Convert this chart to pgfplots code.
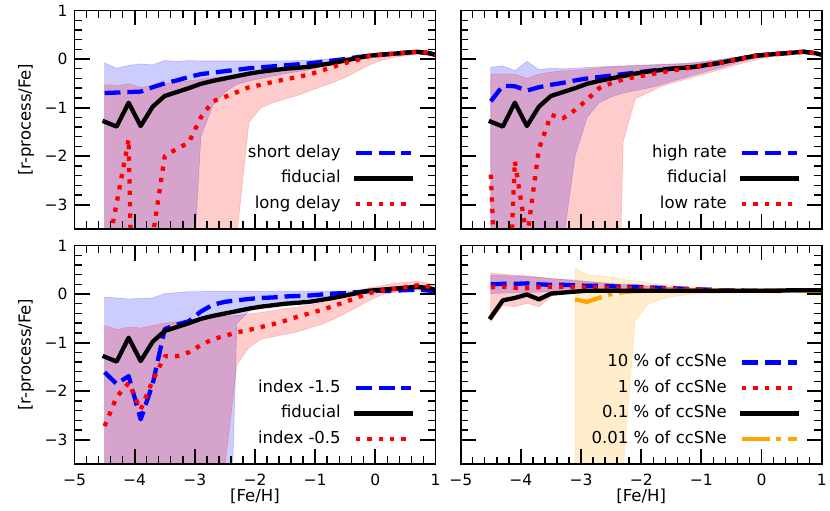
\documentclass[border=0pt]{standalone}
\usepackage{fontspec}
\setmainfont{DejaVu Sans}
\usepackage{pgfplots}
\usepackage{pgfplotstable}
\pgfplotsset{compat=1.18}
\usepgfplotslibrary{fillbetween}
\definecolor{myorange}{RGB}{255,165,0}

\pgfplotstableread{
x fid short long bu bl ru rl
-4.5 -1.29 -0.70 -4.3 -0.08 -10 -0.53 -10
-4.3 -1.39 -0.69 -2.97 -0.19 -10 -0.55 -10
-4.1 -0.90 -0.68 -1.65 -0.13 -10 -0.51 -10
-3.9 -1.38 -0.67 -14 -0.10 -10 -0.58 -10
-3.7 -0.98 -0.58 -3.65 -0.12 -10 -0.55 -10
-3.5 -0.76 -0.50 -2.0 -0.03 -10 -0.50 -10
-3.3 -0.68 -0.44 -1.85 -0.05 -10 -0.48 -10
-3.1 -0.60 -0.37 -1.72 -0.03 -6 -0.45 -10
-2.9 -0.51 -0.31 -1.2 -0.04 -1.6 -0.42 -10
-2.7 -0.45 -0.28 -0.87 -0.04 -0.95 -0.38 -10
-2.5 -0.40 -0.25 -0.78 -0.04 -0.68 -0.35 -6
-2.3 -0.35 -0.22 -0.68 -0.04 -0.52 -0.32 -3.6
-2.1 -0.30 -0.19 -0.58 -0.04 -0.45 -0.28 -1.3
-1.9 -0.26 -0.17 -0.53 -0.04 -0.40 -0.25 -1.0
-1.7 -0.23 -0.15 -0.47 -0.04 -0.35 -0.22 -0.9
-1.5 -0.20 -0.13 -0.42 -0.04 -0.30 -0.19 -0.82
-1.3 -0.18 -0.11 -0.37 -0.03 -0.26 -0.17 -0.75
-1.1 -0.16 -0.09 -0.32 -0.03 -0.22 -0.15 -0.66
-0.9 -0.12 -0.06 -0.24 -0.01 -0.16 -0.10 -0.57
-0.7 -0.08 -0.03 -0.16 0.01 -0.10 -0.05 -0.48
-0.5 -0.03 0.00 -0.08 0.03 -0.05 0.00 -0.38
-0.3 0.02 0.04 -0.02 0.06 0.00 0.05 -0.25
-0.1 0.07 0.07 0.06 0.09 0.05 0.09 -0.12
0.1 0.09 0.09 0.09 0.10 0.08 0.10 -0.03
0.3 0.11 0.11 0.11 0.12 0.10 0.12 0.03
0.5 0.13 0.13 0.13 0.14 0.12 0.14 0.07
0.7 0.15 0.15 0.15 0.16 0.14 0.16 0.09
0.9 0.12 0.12 0.13 0.14 0.11 0.14 0.08
1.1 0.05 0.05 0.06 0.08 0.04 0.08 0.03
}\tA

\pgfplotstableread{
x fid high low bu bl ru rl
-4.5 -1.29 -0.87 -2.38 -0.17 -8 -0.31 -12
-4.3 -1.39 -0.55 -7.98 -0.14 -8 -0.31 -12
-4.1 -0.90 -0.56 -2.1 -0.24 -8 -0.31 -12
-3.9 -1.38 -0.65 -3.7 -0.05 -8 -0.40 -12
-3.7 -0.98 -0.58 -1.85 -0.22 -8 -0.31 -12
-3.5 -0.76 -0.53 -1.15 -0.19 -8 -0.27 -12
-3.3 -0.68 -0.49 -1.22 -0.20 -3.8 -0.24 -12
-3.1 -0.60 -0.44 -1.05 -0.19 -2.0 -0.23 -12
-2.9 -0.51 -0.40 -0.84 -0.17 -1.2 -0.21 -12
-2.7 -0.45 -0.37 -0.60 -0.16 -0.9 -0.18 -12
-2.5 -0.40 -0.34 -0.50 -0.15 -0.78 -0.16 -12
-2.3 -0.35 -0.31 -0.42 -0.14 -0.70 -0.15 -1.7
-2.1 -0.30 -0.28 -0.37 -0.13 -0.65 -0.14 -0.82
-1.9 -0.26 -0.25 -0.33 -0.12 -0.60 -0.13 -0.70
-1.7 -0.23 -0.22 -0.28 -0.11 -0.54 -0.12 -0.58
-1.5 -0.20 -0.20 -0.24 -0.10 -0.46 -0.11 -0.50
-1.3 -0.18 -0.18 -0.20 -0.09 -0.39 -0.10 -0.43
-1.1 -0.16 -0.16 -0.16 -0.07 -0.32 -0.08 -0.36
-0.9 -0.12 -0.12 -0.12 -0.04 -0.25 -0.05 -0.29
-0.7 -0.08 -0.08 -0.08 -0.01 -0.18 -0.02 -0.22
-0.5 -0.03 -0.03 -0.03 0.03 -0.11 0.02 -0.15
-0.3 0.02 0.02 0.02 0.06 -0.04 0.05 -0.08
-0.1 0.07 0.07 0.07 0.10 0.02 0.09 -0.02
0.1 0.09 0.09 0.09 0.11 0.06 0.10 0.04
0.3 0.11 0.11 0.11 0.12 0.09 0.12 0.08
0.5 0.13 0.13 0.13 0.14 0.12 0.14 0.11
0.7 0.15 0.15 0.15 0.16 0.14 0.16 0.13
0.9 0.12 0.12 0.12 0.14 0.11 0.14 0.10
1.1 0.05 0.05 0.05 0.08 0.04 0.08 0.03
}\tB

\pgfplotstableread{
x fid ia ib bu bl ru rl
-4.5 -1.29 -1.61 -2.72 -0.06 -9 -0.65 -9
-4.3 -1.39 -1.85 -2.12 -0.08 -9 -0.73 -9
-4.1 -0.90 -1.69 -1.83 -0.10 -9 -0.68 -9
-3.9 -1.38 -2.58 -2.38 -0.09 -9 -0.70 -9
-3.7 -0.98 -1.85 -1.78 -0.08 -9 -0.65 -9
-3.5 -0.76 -0.72 -1.28 0.01 -9 -0.60 -9
-3.3 -0.68 -0.63 -1.28 0.03 -9 -0.57 -9
-3.1 -0.60 -0.56 -1.20 0.05 -9 -0.54 -9
-2.9 -0.51 -0.36 -1.05 0.05 -9 -0.51 -9
-2.7 -0.45 -0.22 -0.93 0.06 -9 -0.48 -9
-2.5 -0.40 -0.16 -0.86 0.06 -9 -0.46 -3.55
-2.3 -0.35 -0.13 -0.79 0.06 -0.6 -0.44 -1.45
-2.1 -0.30 -0.10 -0.74 0.06 -0.35 -0.41 -1.1
-1.9 -0.26 -0.08 -0.68 0.06 -0.25 -0.38 -0.93
-1.7 -0.23 -0.07 -0.62 0.06 -0.20 -0.34 -0.88
-1.5 -0.20 -0.05 -0.55 0.06 -0.16 -0.30 -0.83
-1.3 -0.18 -0.04 -0.47 0.06 -0.13 -0.27 -0.78
-1.1 -0.16 -0.03 -0.40 0.06 -0.10 -0.23 -0.70
-0.9 -0.12 -0.01 -0.33 0.06 -0.07 -0.18 -0.63
-0.7 -0.08 0.01 -0.25 0.06 -0.04 -0.10 -0.52
-0.5 -0.03 0.02 -0.16 0.06 -0.02 -0.02 -0.40
-0.3 0.02 0.04 -0.07 0.07 0.01 0.07 -0.27
-0.1 0.07 0.06 0.02 0.08 0.04 0.13 -0.13
0.1 0.09 0.07 0.07 0.08 0.05 0.17 -0.02
0.3 0.11 0.07 0.10 0.09 0.06 0.22 0.03
0.5 0.13 0.08 0.14 0.10 0.07 0.24 0.06
0.7 0.15 0.09 0.18 0.11 0.08 0.26 0.10
0.9 0.12 0.07 0.15 0.09 0.06 0.22 0.08
1.1 0.05 0.03 0.08 0.05 0.02 0.14 0.03
}\tC

\pgfplotstableread{
x pa pb pc bu bl ru rl
-4.5 0.20 0.14 -0.48 0.39 0.01 0.44 -0.57
-4.3 0.21 0.15 -0.13 0.38 0.02 0.41 -0.23
-4.1 0.21 0.13 -0.08 0.37 0.03 0.39 -0.26
-3.9 0.22 0.12 -0.01 0.36 0.03 0.37 -0.19
-3.7 0.20 0.14 -0.11 0.34 0.04 0.35 -0.26
-3.5 0.19 0.15 0.01 0.32 0.05 0.32 -0.05
-3.3 0.19 0.15 0.03 0.30 0.05 0.30 0.01
-3.1 0.18 0.14 0.05 0.29 0.06 0.27 0.05
-2.9 0.17 0.14 0.07 0.26 0.06 0.25 0.06
-2.7 0.17 0.13 0.07 0.24 0.06 0.23 0.06
-2.5 0.16 0.13 0.07 0.22 0.07 0.21 0.06
-2.3 0.15 0.13 0.07 0.20 0.07 0.19 0.06
-2.1 0.15 0.12 0.07 0.19 0.07 0.17 0.06
-1.9 0.14 0.12 0.07 0.17 0.07 0.16 0.06
-1.7 0.13 0.11 0.07 0.16 0.07 0.15 0.06
-1.5 0.12 0.11 0.07 0.14 0.07 0.14 0.06
-1.3 0.11 0.10 0.07 0.13 0.07 0.13 0.06
-1.1 0.10 0.10 0.07 0.12 0.07 0.12 0.06
-0.9 0.09 0.09 0.07 0.11 0.07 0.11 0.06
-0.7 0.08 0.08 0.07 0.10 0.07 0.10 0.06
-0.5 0.08 0.08 0.07 0.09 0.07 0.09 0.06
-0.3 0.07 0.07 0.07 0.09 0.06 0.09 0.06
-0.1 0.07 0.07 0.07 0.08 0.06 0.08 0.06
0.1 0.07 0.07 0.07 0.08 0.06 0.08 0.06
0.3 0.07 0.07 0.07 0.08 0.06 0.08 0.06
0.5 0.08 0.08 0.08 0.09 0.07 0.09 0.07
0.7 0.08 0.08 0.08 0.09 0.07 0.09 0.07
0.9 0.08 0.08 0.08 0.09 0.07 0.09 0.07
1.1 0.08 0.08 0.08 0.09 0.07 0.09 0.07
}\tD

\pgfplotstableread{
x pd ou ol
-3.1 -0.11 0.53 -10
-2.9 -0.16 0.40 -10
-2.7 -0.08 0.38 -10
-2.5 0.00 0.35 -10
-2.3 0.04 0.30 -3.6
-2.1 0.06 0.27 -0.55
-1.9 0.065 0.24 -0.22
-1.7 0.065 0.21 -0.12
-1.5 0.065 0.18 -0.06
-1.3 0.065 0.16 -0.03
-1.1 0.065 0.14 0.00
-0.9 0.065 0.13 0.01
-0.7 0.065 0.12 0.02
-0.5 0.065 0.11 0.03
-0.3 0.065 0.10 0.04
-0.1 0.065 0.09 0.04
0.1 0.065 0.08 0.05
0.3 0.065 0.08 0.05
0.5 0.07 0.08 0.05
0.7 0.07 0.08 0.05
0.9 0.07 0.08 0.05
1.1 0.07 0.08 0.05
}\tDo

\pgfplotsset{
  bluedash/.style={blue, line width=4.3bp, dash pattern=on 15.9bp off 6.9bp, line join=round},
  reddot/.style={red, line width=4.3bp, dash pattern=on 4.3bp off 7.1bp, line join=round},
  blacksolid/.style={black, line width=4.3bp, line join=round, line cap=rect},
  orangedd/.style={myorange, line width=4.3bp, dash pattern=on 27.5bp off 6.9bp on 4.3bp off 6.9bp, line join=round},
  bandstyle/.style={fill=#1, fill opacity=0.2, draw=#1, draw opacity=0.2, line width=0.6bp, forget plot},
  panel/.style={
    scale only axis, width=361bp, height=218.5bp, anchor=south west,
    xmin=-5, xmax=1, ymin=-3.5, ymax=1,
    xtick={-5,-4,-3,-2,-1,0,1}, ytick={-3,-2,-1,0,1},
    minor x tick num=4, minor y tick num=4,
    tick align=inside, xtick pos=both, ytick pos=both,
    major tick length=15bp, minor tick length=7.5bp,
    major tick style={black, line width=1.8bp},
    minor tick style={black, line width=1.4bp},
    axis line style={line width=1.8bp},
    axis on top,
    tick label style={font=\fontsize{15.5bp}{18bp}\selectfont},
    label style={font=\fontsize{16.5bp}{19bp}\selectfont, inner sep=0pt},
    xticklabel style={yshift=-6.5bp},
    yticklabel style={xshift=-3.5bp},
    legend cell align=right, legend plot pos=right,
    legend image code/.code={\draw[##1] (0bp,0bp) -- (55bp,0bp);},
    legend style={at={(rel axis cs:1,0)}, anchor=south east, xshift=-22.5bp, yshift=17.25bp,
      draw=none, fill=none, inner sep=0pt, outer sep=0pt, row sep=10bp, column sep=13bp,
      font=\fontsize{16.5bp}{19bp}\selectfont,
      nodes={inner sep=0pt, text height=12bp, text depth=3.5bp}},
  },
  leftp/.style={yticklabels={−3,−2,−1,0,1},
    ylabel={[r-process/Fe]},
    ylabel style={at={(axis description cs:-0.1343,0.5)}, anchor=center}},
  rightp/.style={yticklabels={,,,,}},
  topp/.style={xticklabels={,,,,,,}},
  botp/.style={xticklabels={−5,−4,−3,−2,−1,0,1},
    xlabel={[Fe/H]},
    xlabel style={at={(axis description cs:0.5,-0.1465)}, anchor=center}},
}

\begin{document}
\begin{tikzpicture}

% top left
\begin{axis}[panel, leftp, topp, at={(74.5bp,282bp)}]
\addlegendimage{bluedash}\addlegendentry{short delay}
\addlegendimage{blacksolid}\addlegendentry{fiducial}
\addlegendimage{reddot}\addlegendentry{long delay}
\addplot[draw=none, name path=Abu, forget plot] table[x=x,y=bu]{\tA};
\addplot[draw=none, name path=Abl, forget plot] table[x=x,y=bl]{\tA};
\addplot[draw=none, name path=Aru, forget plot] table[x=x,y=ru]{\tA};
\addplot[draw=none, name path=Arl, forget plot] table[x=x,y=rl]{\tA};
\addplot[bandstyle=blue] fill between[of=Abu and Abl];
\addplot[bandstyle=red] fill between[of=Aru and Arl];
\addplot[bluedash, forget plot] table[x=x,y=short]{\tA};
\addplot[blacksolid, forget plot] table[x=x,y=fid]{\tA};
\addplot[reddot, forget plot] table[x=x,y=long]{\tA};
\end{axis}

% top right
\begin{axis}[panel, rightp, topp, at={(460.7bp,282bp)}]
\addlegendimage{bluedash}\addlegendentry{high rate}
\addlegendimage{blacksolid}\addlegendentry{fiducial}
\addlegendimage{reddot}\addlegendentry{low rate}
\addplot[draw=none, name path=Bbu, forget plot] table[x=x,y=bu]{\tB};
\addplot[draw=none, name path=Bbl, forget plot] table[x=x,y=bl]{\tB};
\addplot[draw=none, name path=Bru, forget plot] table[x=x,y=ru]{\tB};
\addplot[draw=none, name path=Brl, forget plot] table[x=x,y=rl]{\tB};
\addplot[bandstyle=blue] fill between[of=Bbu and Bbl];
\addplot[bandstyle=red] fill between[of=Bru and Brl];
\addplot[bluedash, forget plot] table[x=x,y=high]{\tB};
\addplot[blacksolid, forget plot] table[x=x,y=fid]{\tB};
\addplot[reddot, forget plot] table[x=x,y=low]{\tB};
\end{axis}

% bottom left
\begin{axis}[panel, leftp, botp, at={(74.5bp,47bp)}]
\addlegendimage{bluedash}\addlegendentry{index -1.5}
\addlegendimage{blacksolid}\addlegendentry{fiducial}
\addlegendimage{reddot}\addlegendentry{index -0.5}
\addplot[draw=none, name path=Cbu, forget plot] table[x=x,y=bu]{\tC};
\addplot[draw=none, name path=Cbl, forget plot] table[x=x,y=bl]{\tC};
\addplot[draw=none, name path=Cru, forget plot] table[x=x,y=ru]{\tC};
\addplot[draw=none, name path=Crl, forget plot] table[x=x,y=rl]{\tC};
\addplot[bandstyle=blue] fill between[of=Cbu and Cbl];
\addplot[bandstyle=red] fill between[of=Cru and Crl];
\addplot[bluedash, forget plot] table[x=x,y=ia]{\tC};
\addplot[blacksolid, forget plot] table[x=x,y=fid]{\tC};
\addplot[reddot, forget plot] table[x=x,y=ib]{\tC};
\end{axis}

% bottom right
\begin{axis}[panel, rightp, botp, at={(460.7bp,47bp)}]
\addlegendimage{bluedash}\addlegendentry{10 \% of ccSNe}
\addlegendimage{reddot}\addlegendentry{1 \% of ccSNe}
\addlegendimage{blacksolid}\addlegendentry{0.1 \% of ccSNe}
\addlegendimage{orangedd}\addlegendentry{0.01 \% of ccSNe}
\addplot[draw=none, name path=Dbu, forget plot] table[x=x,y=bu]{\tD};
\addplot[draw=none, name path=Dbl, forget plot] table[x=x,y=bl]{\tD};
\addplot[draw=none, name path=Dru, forget plot] table[x=x,y=ru]{\tD};
\addplot[draw=none, name path=Drl, forget plot] table[x=x,y=rl]{\tD};
\addplot[draw=none, name path=Dou, forget plot] table[x=x,y=ou]{\tDo};
\addplot[draw=none, name path=Dol, forget plot] table[x=x,y=ol]{\tDo};
\addplot[bandstyle=blue] fill between[of=Dbu and Dbl];
\addplot[bandstyle=red] fill between[of=Dru and Drl];
\addplot[bandstyle=myorange] fill between[of=Dou and Dol];
\addplot[bluedash, forget plot] table[x=x,y=pa]{\tD};
\addplot[reddot, forget plot] table[x=x,y=pb]{\tD};
\addplot[orangedd, forget plot] table[x=x,y=pd]{\tDo};
\addplot[blacksolid, forget plot] table[x=x,y=pc]{\tD};
\end{axis}

\pgfresetboundingbox
\path[use as bounding box] (0,0) rectangle (830bp,511bp);
\end{tikzpicture}
\end{document}
